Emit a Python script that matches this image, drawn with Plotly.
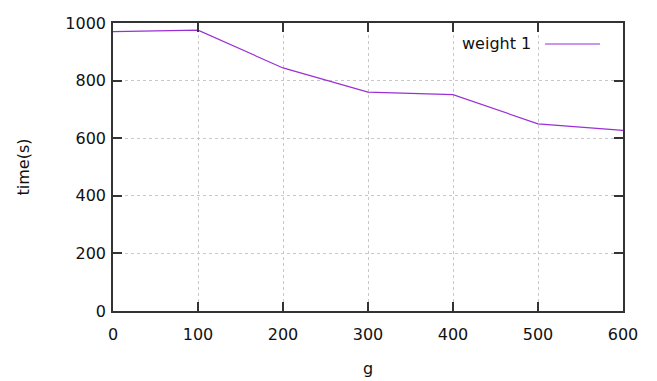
import plotly.graph_objects as go

g_values = [0, 100, 200, 300, 400, 500, 600]
time_weight1 = [970, 975, 844, 760, 751, 650, 627]
x_ticks = [0, 100, 200, 300, 400, 500, 600]
y_ticks = [0, 200, 400, 600, 800, 1000]
series_name = "weight 1"

line_color = "#9a2fd6"
font_family = "DejaVu Sans"
text_color = "#111111"

fig = go.Figure()
fig.add_trace(go.Scatter(x=g_values, y=time_weight1, mode="lines",
                         line=dict(color=line_color, width=1.2),
                         name=series_name, showlegend=False))

axis_common = dict(showline=True, linecolor="#333333", linewidth=1.5, mirror="allticks",
                   ticks="inside", ticklen=9, tickcolor="#333333", tickwidth=1.5,
                   showgrid=True, gridcolor="#c8c8c8", griddash="dot", gridwidth=1,
                   zeroline=False, automargin=False,
                   tickfont=dict(family=font_family, size=16, color=text_color))

fig.update_xaxes(range=[0, 600], tickvals=x_ticks, ticklabelstandoff=8,
                 title=dict(text="g", font=dict(family=font_family, size=16, color=text_color), standoff=20),
                 **axis_common)
fig.update_yaxes(range=[0, 1000], tickvals=y_ticks, ticklabelstandoff=2,
                 title=dict(text="time(s)", font=dict(family=font_family, size=16, color=text_color), standoff=32),
                 **axis_common)

# gnuplot-style key: text followed by line sample
fig.add_annotation(x=0.8235, y=0.93, xref="paper", yref="paper", text=series_name,
                   showarrow=False, xanchor="right", yanchor="middle",
                   font=dict(family=font_family, size=16, color=text_color))
fig.add_shape(type="line", xref="paper", yref="paper", x0=0.847, x1=0.955, y0=0.927, y1=0.927,
              line=dict(color=line_color, width=1.2))

fig.update_layout(width=657, height=381, margin=dict(l=113, r=34, t=23, b=70),
                  plot_bgcolor="white", paper_bgcolor="white",
                  font=dict(family=font_family, size=16, color=text_color))

fig.write_html("out.html", config={"displayModeBar": False},
               post_script="document.body.style.margin='0';document.body.style.overflow='hidden';")
